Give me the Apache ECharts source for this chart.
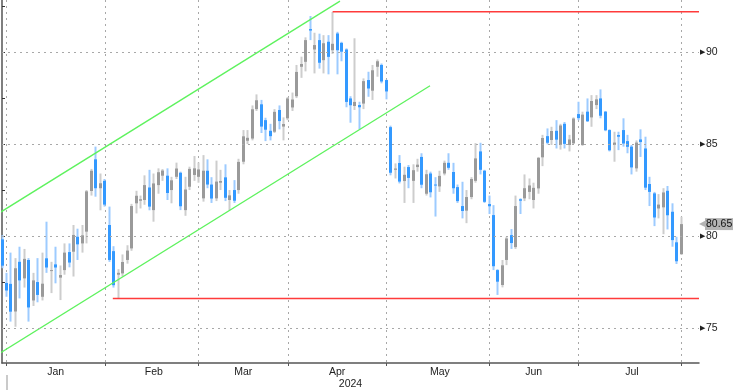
<!DOCTYPE html>
<html><head><meta charset="utf-8">
<script src="https://cdn.jsdelivr.net/npm/echarts@6/dist/echarts.min.js"></script>
<style>html,body{margin:0;padding:0;background:#fff}#c{width:733px;height:390px}</style>
</head><body><div id="c"></div>
<script>
// ---- categories (trading days) ----
const firstDay = [2023, 11, 28];
const lastDay = [2024, 6, 31];
const holidays = ['2024-01-01', '2024-03-29'];
const padCount = 4;

// ---- tick labels ----
const monthLabels = ['Jan', 'Feb', 'Mar', 'Apr', 'May', 'Jun', 'Jul'];
const yearLabel = '2024';
const yTickValues = [75, 77.5, 80, 82.5, 85, 87.5, 90, 92.5];
const yLabelValues = [75, 80, 85, 90];
const lastPrice = 80.65;

// ---- OHLC values ----
const opens = [79.82,77.45,77.4,75.9,78.6,77.7,78.7,76.5,77.5,76.7,78.79,78.1,78.46,77.74,78.15,79.13,79.15,79.96,79.6,80.24,82.45,84.17,82.6,83.0,
80.6,79.18,77.9,77.97,78.7,79.33,81.78,81.92,81.96,82.64,81.41,82.77,83.28,83.28,82.5,83.22,83.44,81.41,82.68,83.32,83.22,
82.05,83.55,82.8,82.05,82.9,83.19,81.96,82.5,82.5,84.04,85.18,85.3,86.9,87.16,86.3,85.72,85.67,86.85,85.95,86.4,
86.99,87.6,89.2,89.47,91.25,90.14,90.65,89.56,90.56,90.1,91.01,90.5,90.14,87.48,87.07,87.12,87.2,88.48,87.9,89.2,89.3,88.48,
85.92,83.6,83.97,82.99,83.75,83.0,83.75,84.3,82.3,83.4,82.8,82.7,83.4,83.98,83.48,82.66,81.63,81.38,82.12,83.0,84.6,83.55,81.74,
81.14,78.15,77.34,78.7,80.05,79.4,82.0,82.05,82.4,81.96,82.59,84.28,85.43,85.22,85.72,84.95,86.1,84.95,85.04,86.63,
84.95,86.76,86.45,87.12,87.48,86.76,85.76,84.95,85.49,85.76,85.16,84.86,83.68,85.25,84.76,82.83,82.32,81.5,81.56,82.46,81.32,79.66,79.02];
const highs = [80.05,78.0,79.1,78.8,79.42,79.3,78.8,78.0,78.8,79.1,80.78,78.6,79.42,78.4,79.6,79.6,80.6,80.4,80.6,82.5,83.65,84.86,83.4,83.1,
81.6,79.45,78.2,79.0,79.5,81.75,82.46,82.2,83.3,83.6,83.4,83.68,83.64,83.68,83.22,83.99,83.5,83.22,83.77,84.35,84.0,
84.4,84.17,83.2,84.1,83.6,83.9,82.5,83.04,84.2,85.76,85.76,87.1,87.7,87.4,86.43,86.1,86.9,87.1,86.45,87.55,
87.8,89.3,89.75,90.8,91.96,91.05,91.0,90.92,90.92,92.18,91.1,90.56,90.2,87.6,90.75,87.3,88.57,88.93,89.3,89.6,89.38,88.5,
86.0,83.95,84.4,83.77,83.86,83.9,84.2,84.5,83.6,83.5,83.2,83.55,84.1,84.5,83.98,82.8,82.95,82.5,83.2,85.05,85.07,83.6,82.2,
81.68,78.2,78.7,79.96,80.38,82.2,82.05,83.35,83.13,82.9,84.3,85.5,85.85,85.94,86.3,86.1,86.2,85.5,86.45,87.3,
86.76,87.48,87.66,87.66,87.97,86.8,85.8,85.67,85.67,86.4,85.5,84.95,85.2,85.8,85.4,83.22,82.4,82.28,82.6,82.72,81.78,79.96,81.05];
const lows = [78.25,76.7,75.35,75.07,76.61,77.2,75.35,76.2,76.4,76.5,78.0,76.9,77.43,76.52,77.9,78.3,77.8,78.7,79.1,79.6,82.2,82.14,81.4,81.6,
78.6,77.2,76.61,77.8,78.5,79.2,81.23,81.5,81.7,81.4,80.78,82.3,83.0,81.96,81.78,83.1,81.41,81.1,82.5,83.0,82.9,
81.87,82.6,81.8,81.9,82.5,81.9,81.4,81.8,82.3,83.9,85.0,85.2,86.8,85.6,85.16,85.2,85.6,85.8,85.2,86.3,
86.8,87.5,88.6,88.95,90.65,88.84,89.1,88.84,88.79,89.9,88.79,89.5,87.0,86.16,86.85,85.8,86.9,87.57,87.4,88.66,88.3,87.43,
83.3,83.13,82.86,81.8,82.6,81.8,83.5,82.6,82.2,82.1,81.06,82.4,83.3,83.6,82.3,81.8,80.96,80.7,82.0,82.9,83.35,81.8,81.2,
78.15,76.8,77.21,78.42,79.3,79.3,81.2,81.9,82.0,81.5,82.3,83.8,84.98,84.95,84.76,84.7,84.76,84.6,85.0,86.3,
84.9,86.2,85.94,86.9,86.4,85.7,84.6,84.04,84.67,84.86,84.5,83.35,83.5,84.3,82.5,81.63,80.54,80.96,80.1,80.36,79.42,78.48,78.97];
const closes = [78.39,77.04,75.89,78.25,77.59,78.76,76.12,77.59,76.8,77.41,78.29,78.15,78.29,77.88,79.1,78.56,80.06,79.55,80.04,82.43,83.55,82.6,82.87,81.71,
78.7,77.33,78.0,78.59,79.21,81.63,82.19,82.0,82.77,81.6,82.86,83.47,83.56,82.34,83.03,83.67,81.62,82.53,83.65,83.68,83.62,
83.55,82.8,82.04,82.96,82.99,82.08,82.21,81.92,84.03,85.42,85.34,86.89,87.38,85.95,85.78,85.43,86.75,86.25,86.09,87.48,
87.42,88.92,89.35,90.65,91.17,90.38,89.42,90.48,89.74,90.45,90.1,90.02,87.29,87.11,87.29,87.0,88.42,88.02,89.01,89.5,88.4,87.86,
83.44,83.67,82.96,83.33,83.16,83.58,83.88,82.79,83.36,82.38,82.75,83.27,83.98,83.71,82.6,81.9,81.36,82.12,83.1,84.22,83.6,81.86,81.62,
78.36,77.52,78.41,79.87,79.62,81.63,81.92,82.6,82.75,82.62,84.25,85.33,85.07,85.71,85.24,86.01,85.01,85.25,86.39,86.41,
86.6,86.24,87.34,87.43,86.54,85.75,84.66,85.08,85.4,85.03,84.85,83.73,85.08,85.11,82.63,82.4,81.01,81.71,82.37,81.13,79.78,78.63,80.65];

// ---- drawn lines, in data units [category index, price] ----
const upperChannel = [[-0.45, 81.28], [75.65, 92.77]];
const lowerChannel = [[-0.45, 73.64], [95.8, 88.17]];
const highLine = [[74, 92.19], [156, 92.19]];
const lowLine = [[24.8, 76.61], [156, 76.61]];

// ---- build categories ----
function pad2(n){ return (n < 10 ? '0' : '') + n; }
const dates = [];
(function(){
  let t = Date.UTC(firstDay[0], firstDay[1], firstDay[2]);
  const end = Date.UTC(lastDay[0], lastDay[1], lastDay[2]);
  while (t <= end) {
    const d = new Date(t);
    const s = d.getUTCFullYear() + '-' + pad2(d.getUTCMonth() + 1) + '-' + pad2(d.getUTCDate());
    const wd = d.getUTCDay();
    if (wd !== 0 && wd !== 6 && holidays.indexOf(s) < 0) dates.push(s);
    t += 86400000;
  }
})();
const cats = dates.slice();
for (let k = 0; k < padCount; k++) cats.push('pad' + k);
const N = cats.length;

// month boundary indices (last trading day of each month)
const gridIdx = [];
for (let i = 0; i < dates.length; i++) {
  if (i === dates.length - 1 || dates[i + 1].slice(0, 7) !== dates[i].slice(0, 7)) gridIdx.push(i);
}
const labelIdx = {};
for (let k = 0; k < monthLabels.length; k++) {
  labelIdx[Math.round((gridIdx[k] + gridIdx[k + 1]) / 2)] = monthLabels[k];
}

const candleData = dates.map((d, i) => [i, opens[i], closes[i], lows[i], highs[i]]);

const FONT = 'Liberation Sans, Arial, sans-serif';
const TXT = '#222';
const GRIDC = '#a8a8a8';
const upBody = '#9a9a9a', upWick = '#cdcdcd';
const dnBody = '#3399ff', dnWick = '#9dcbff';

const chart = echarts.init(document.getElementById('c'), null, {renderer: 'canvas'});
chart.setOption({
  animation: false,
  backgroundColor: '#fff',
  textStyle: {fontFamily: FONT},
  grid: {left: 2, right: 34, top: 0, bottom: 27, containLabel: false, outerBoundsMode: 'none'},
  xAxis: [
    {
      type: 'category', data: cats, boundaryGap: false,
      axisLine: {show: true, onZero: false, lineStyle: {color: '#555', width: 1.5}},
      axisTick: {show: true, interval: (i) => gridIdx.indexOf(i) >= 0, length: 3, lineStyle: {color: '#555'}},
      axisLabel: {show: true, interval: (i) => labelIdx[i] !== undefined, formatter: (v, i) => labelIdx[i] || '',
        color: TXT, fontSize: 10.5, fontFamily: FONT, margin: 4},
      splitLine: {show: true, interval: (i) => gridIdx.indexOf(i) >= 0, lineStyle: {color: GRIDC, type: [2, 4], width: 1}},
      name: yearLabel, nameLocation: 'middle', nameGap: 16, nameMoveOverlap: false,
      nameTextStyle: {color: TXT, fontSize: 10.5, fontFamily: FONT, verticalAlign: 'top'}
    },
    {type: 'value', min: 0, max: N - 1, show: false},
    {
      type: 'category', data: cats, boundaryGap: false, position: 'bottom', offset: 12,
      axisLine: {show: false},
      axisTick: {show: true, interval: (i) => i === gridIdx[0], length: 16, lineStyle: {color: '#b8b8b8', width: 1.5}},
      axisLabel: {show: false}, splitLine: {show: false}
    }
  ],
  yAxis: {
    type: 'value', position: 'right', min: 73.1, max: 92.83, scale: true,
    axisLine: {show: true, lineStyle: {color: '#555', width: 1.5}},
    axisTick: {show: true, customValues: yTickValues, length: 3, inside: false, lineStyle: {color: '#333', width: 1}},
    axisLabel: {show: true, customValues: yLabelValues, margin: 1,
      formatter: (v) => '{t|▶}{v|' + v + '}',
      rich: {t: {fontSize: 7, color: '#222', padding: [0, 1, 0, 0]}, v: {fontSize: 10.5, color: TXT, fontFamily: FONT}}},
    splitLine: {show: false}
  },
  series: [
    {
      type: 'line', xAxisIndex: 1, data: [], silent: true, z: 1,
      markLine: {silent: true, symbol: ['none', 'none'], label: {show: false}, animation: false,
        lineStyle: {color: GRIDC, type: [2, 4], width: 1},
        data: yLabelValues.map(v => ({yAxis: v}))}
    },
    {
      type: 'custom', xAxisIndex: 0, z: 3, clip: false,
      encode: {x: 0, y: [1, 2, 3, 4]},
      data: candleData,
      renderItem: function (params, api) {
        const i = api.value(0), o = api.value(1), c = api.value(2), l = api.value(3), h = api.value(4);
        const pO = api.coord([i, o]), pC = api.coord([i, c]), pL = api.coord([i, l]), pH = api.coord([i, h]);
        const up = c >= o;
        const x0 = Math.round(pO[0] - 1.5);
        const top = Math.min(pO[1], pC[1]), bot = Math.max(pO[1], pC[1]);
        return {type: 'group', children: [
          {type: 'rect', shape: {x: x0 + 0.5, y: pH[1], width: 2, height: Math.max(1, pL[1] - pH[1])}, style: {fill: up ? upWick : dnWick}},
          {type: 'rect', shape: {x: x0, y: top, width: 3, height: Math.max(1, bot - top)}, style: {fill: up ? upBody : dnBody}}
        ]};
      }
    },
    {type: 'line', xAxisIndex: 1, data: upperChannel, symbol: 'none', silent: true, z: 4,
      lineStyle: {color: '#5ef25e', width: 1.3}},
    {type: 'line', xAxisIndex: 1, data: lowerChannel, symbol: 'none', silent: true, z: 4,
      lineStyle: {color: '#5ef25e', width: 1.3}},
    {type: 'line', xAxisIndex: 1, data: lowLine, symbol: 'none', silent: true, z: 4,
      lineStyle: {color: '#ff3b3b', width: 1.5}},
    {type: 'line', xAxisIndex: 1, data: highLine, symbol: 'none', silent: true, z: 4,
      lineStyle: {color: '#ff3b3b', width: 1.5},
      markLine: {silent: true, symbol: ['none', 'none'], animation: false,
        lineStyle: {color: 'rgba(0,0,0,0)', width: 0},
        label: {show: true, position: 'end', distance: 0,
          formatter: '{a|◀}{b|' + lastPrice.toFixed(2) + '}',
          rich: {a: {color: '#b4b4b4', fontSize: 8}, b: {backgroundColor: '#b4b4b4', color: '#111', fontSize: 10.5, fontFamily: FONT, padding: [1, 1, 0, 1]}}},
        data: [{yAxis: lastPrice}]}}
  ]
});
</script>
</body></html>
